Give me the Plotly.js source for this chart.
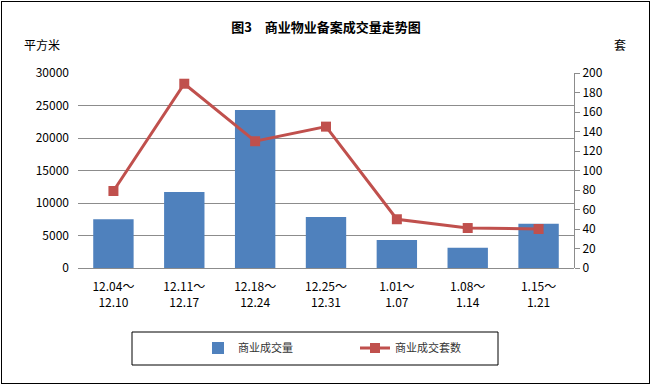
<!DOCTYPE html>
<html><head><meta charset="utf-8">
<script src="https://cdn.plot.ly/plotly-3.0.1.min.js"></script>
<style>
body{margin:0;padding:0;background:#fff;}
#wrap{position:relative;width:652px;height:386px;}
#chart{width:652px;height:386px;}
#frame{position:absolute;left:1px;top:1px;width:647px;height:381px;border:1px solid #000;pointer-events:none;}
</style></head>
<body><div id="wrap"><div id="chart"></div><div id="frame"></div></div>
<script>
var categories = ["12.04～<br>12.10","12.11～<br>12.17","12.18～<br>12.24","12.25～<br>12.31","1.01～<br>1.07","1.08～<br>1.14","1.15～<br>1.21"];
var areaValues = [7500, 11700, 24300, 7850, 4300, 3100, 6800];
var unitValues = [79, 189, 130, 145, 50, 41, 40];
var leftTicks = [0,5000,10000,15000,20000,25000,30000];
var leftTickText = ["0","5000","10000","15000","20000","25000","30000"];
var rightTicks = [0,20,40,60,80,100,120,140,160,180,200];

var FONT = '"Noto Sans CJK SC", "DejaVu Sans", sans-serif';
var traces = [
  {type:'bar', name:'商业成交量', x:categories, y:areaValues, marker:{color:'#4F81BD'}, yaxis:'y'},
  {type:'scatter', mode:'lines+markers', name:'商业成交套数', x:categories, y:unitValues, yaxis:'y2',
   line:{color:'#C0504D', width:3}, marker:{symbol:'square', size:10, color:'#C0504D'}}
];
var layout = {
  width:652, height:386,
  margin:{l:78, r:78, t:73, b:118},
  paper_bgcolor:'#fff', plot_bgcolor:'#fff',
  font:{family:FONT, size:12, color:'#000'},
  bargap:0.43,
  showlegend:true,
  title:{text:'<b>图3　商业物业备案成交量走势图</b>', x:0.5, xanchor:'center', y:0.93, yanchor:'middle', font:{size:13, family:FONT, color:'#000'}},
  xaxis:{showgrid:false, showline:false, ticks:'', tickfont:{size:12, family:FONT}, ticklabelstandoff:10, fixedrange:true},
  yaxis:{range:[0,30000], tickvals:leftTicks, ticktext:leftTickText, showgrid:true, gridcolor:'#8c8c8c', gridwidth:1, zeroline:true, zerolinecolor:'#8c8c8c', zerolinewidth:1,
         showline:false, ticks:'', tickfont:{size:12, family:FONT}, ticklabelstandoff:8},
  yaxis2:{range:[0,200], tickvals:rightTicks, overlaying:'y', side:'right', showgrid:false, zeroline:false,
          showline:true, linecolor:'#8c8c8c', linewidth:1, ticks:'outside', ticklen:5, tickcolor:'#8c8c8c', tickfont:{size:12, family:FONT}},
  legend:{orientation:'h', x:(198-78)/496, xanchor:'left', y:-0.41, yanchor:'middle', font:{size:11, family:FONT, color:'#333'}, bgcolor:'rgba(0,0,0,0)', entrywidth:112},
  shapes:[{type:'rect', xref:'paper', yref:'paper', x0:(132-78)/496, x1:(498-78)/496, y0:(268-332)/195, y1:(268-365)/195, line:{color:'#000', width:1}}],
  annotations:[
    {text:'平方米', xref:'paper', yref:'paper', x:(22-78)/496, y:(268-44)/195, xanchor:'left', yanchor:'middle', showarrow:false, font:{size:12, family:FONT}},
    {text:'套', xref:'paper', yref:'paper', x:(620-78)/496, y:(268-44)/195, xanchor:'center', yanchor:'middle', showarrow:false, font:{size:12, family:FONT}}
  ]
};
Plotly.newPlot('chart', traces, layout, {displayModeBar:false, staticPlot:true});
</script></body></html>
